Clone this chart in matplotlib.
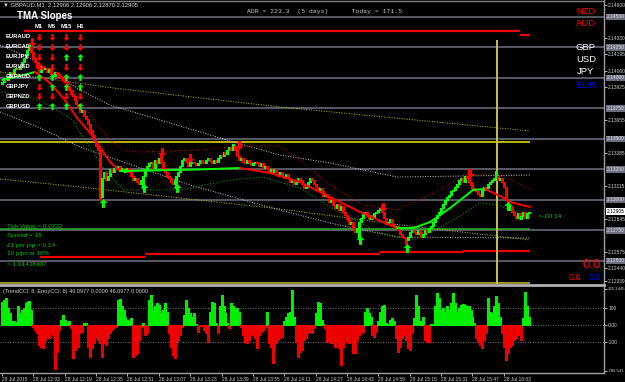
import numpy as np
import matplotlib.pyplot as plt
from matplotlib.path import Path

plt.rcParams['font.family'] = ['Liberation Sans', 'DejaVu Sans']

W, H = 625, 382

# ---------- data
close = [
    2.1397, 2.1400, 2.1398, 2.1402, 2.1405, 2.1403, 2.1407, 2.1408, 2.1407, 2.1410,
    2.1413, 2.1416, 2.1419, 2.1423, 2.1425, 2.1421, 2.1416, 2.1413, 2.1408, 2.1405,
    2.1410, 2.1407, 2.1408, 2.1405, 2.1407, 2.1403, 2.1402, 2.1405, 2.1403, 2.1402,
    2.1400, 2.1398, 2.1397, 2.1393, 2.1390, 2.1387, 2.1385, 2.1382, 2.1379, 2.1375,
    2.1372, 2.1374, 2.1369, 2.1366, 2.1362, 2.1357, 2.1353, 2.1348, 2.1344, 2.1341,
    2.1310, 2.1318, 2.1323, 2.1316, 2.1320, 2.1325, 2.1323, 2.1326, 2.1325, 2.1328,
    2.1325, 2.1326, 2.1323, 2.1325, 2.1326, 2.1323, 2.1320, 2.1316, 2.1318, 2.1315,
    2.1313, 2.1316, 2.1320, 2.1325, 2.1328, 2.1330, 2.1331, 2.1326, 2.1333, 2.1330,
    2.1334, 2.1331, 2.1326, 2.1323, 2.1320, 2.1318, 2.1315, 2.1313, 2.1316, 2.1320,
    2.1323, 2.1328, 2.1333, 2.1334, 2.1331, 2.1328, 2.1330, 2.1331, 2.1330, 2.1329,
    2.1330, 2.1333, 2.1331, 2.1330, 2.1333, 2.1334, 2.1332, 2.1330, 2.1333, 2.1331,
    2.1334, 2.1337, 2.1336, 2.1339, 2.1338, 2.1341, 2.1343, 2.1341, 2.1344, 2.1341,
    2.1336, 2.1333, 2.1334, 2.1331, 2.1330, 2.1333, 2.1331, 2.1329, 2.1330, 2.1331,
    2.1330, 2.1328, 2.1330, 2.1326, 2.1328, 2.1325, 2.1323, 2.1325, 2.1323, 2.1325,
    2.1323, 2.1320, 2.1323, 2.1320, 2.1318, 2.1321, 2.1318, 2.1315, 2.1316, 2.1313,
    2.1315, 2.1318, 2.1316, 2.1313, 2.1310, 2.1311, 2.1315, 2.1318, 2.1316, 2.1313,
    2.1311, 2.1308, 2.1310, 2.1307, 2.1303, 2.1305, 2.1302, 2.1298, 2.1300, 2.1296,
    2.1293, 2.1297, 2.1292, 2.1295, 2.1290, 2.1288, 2.1284, 2.1280, 2.1282, 2.1277,
    2.1274, 2.1277, 2.1282, 2.1285, 2.1289, 2.1290, 2.1287, 2.1284, 2.1288, 2.1285,
    2.1289, 2.1290, 2.1292, 2.1293, 2.1290, 2.1285, 2.1280, 2.1282, 2.1284, 2.1280,
    2.1277, 2.1279, 2.1275, 2.1272, 2.1270, 2.1269, 2.1267, 2.1270, 2.1274, 2.1275,
    2.1274, 2.1272, 2.1275, 2.1274, 2.1270, 2.1272, 2.1275, 2.1274, 2.1277, 2.1279,
    2.1282, 2.1285, 2.1288, 2.1290, 2.1293, 2.1297, 2.1300, 2.1302, 2.1304, 2.1307,
    2.1308, 2.1311, 2.1313, 2.1316, 2.1318, 2.1315, 2.1320, 2.1318, 2.1315, 2.1312,
    2.1310, 2.1308, 2.1307, 2.1305, 2.1303, 2.1308, 2.1311, 2.1310, 2.1313, 2.1315,
    2.1316, 2.1318, 2.1320, 2.1316, 2.1318, 2.1315, 2.1311, 2.1300, 2.1292, 2.1295,
    2.1290, 2.1288, 2.1285, 2.1289, 2.1284, 2.1287, 2.1290, 2.1285, 2.1289, 2.1290,
]
first_open = 2.1395
hi_idx = [14, 15, 81, 96, 118, 120, 194, 238, 252]
hi_val = [2.1427, 2.1425, 2.1338, 2.1334, 2.1346, 2.1342, 2.1296, 2.1325, 2.1324]
lo_idx = [50, 51, 72, 89, 182, 206, 258]
lo_val = [2.1300, 2.1302, 2.1310, 2.1310, 2.1268, 2.1264, 2.1292]

buy_idx = [51.5, 72.4, 89.3, 182.7, 206.6, 258.2]
buy_px = [2.12975, 2.13098, 2.13098, 2.12672, 2.12606, 2.12950]
sell_idx = [15.3, 81.6, 95.9, 120.9, 194.4, 238.8]
sell_px = [2.14295, 2.13393, 2.13344, 2.13450, 2.12942, 2.13221]

tma_i = [0, 9.2, 16.8, 24.5, 32.1, 38.3, 44.9, 50, 55.1, 60.2, 75.5, 101, 121.4,
         136.7, 152, 167.3, 182.7, 201.5, 209.7, 218.4, 228.6, 240.3, 246.4, 254.1,
         259.2, 269.4]
tma_p = [2.13983, 2.14016, 2.14049, 2.13959, 2.13819, 2.13672, 2.13549, 2.13434,
         2.13311, 2.13237, 2.13241, 2.13250, 2.13262, 2.13221, 2.13147, 2.13024,
         2.12901, 2.12769, 2.12769, 2.12819, 2.12934, 2.13082, 2.13090, 2.13032,
         2.12983, 2.12942]
upper_i = [9.2, 15.8, 29.6, 39.8, 44.9, 55.1, 61.7, 70.4, 101, 121.4, 141.8, 152,
           167.3, 184.2, 201.5, 218.4, 235.2, 252.6, 269.4]
upper_p = [2.14254, 2.14172, 2.13983, 2.13844, 2.13696, 2.13491, 2.13409, 2.13393,
           2.13409, 2.13442, 2.13442, 2.13327, 2.13122, 2.12958, 2.12918, 2.13041,
           2.13188, 2.13221, 2.13082]
lower_i = [0, 19.4, 36.2, 39.8, 51.5, 61.7, 90.8, 116.3, 133.2, 152, 167.3, 192.9,
           209.7, 228.6, 243.9, 252.6, 269.4]
lower_p = [2.13885, 2.13819, 2.13655, 2.13549, 2.13270, 2.13082, 2.13082, 2.13164,
           2.13188, 2.13098, 2.12942, 2.12729, 2.12672, 2.12819, 2.12975, 2.12959,
           2.12860]
wup_i = [-1, 14.3, 39.8, 55.1, 80.6, 119.9, 141.8, 167.3, 201.5, 233.7, 269.4]
wup_p = [2.14270, 2.14164, 2.13901, 2.13778, 2.13655, 2.13467, 2.13368, 2.13303,
         2.13188, 2.13196, 2.13204]
wlo_i = [-1, 19.4, 39.8, 95.9, 141.8, 167.3, 201.5, 269.4]
wlo_p = [2.13721, 2.13590, 2.13434, 2.13122, 2.12917, 2.12811, 2.12696, 2.12688]
yup_i = [-1, 56.6, 141.8, 269.4]
yup_p = [2.14049, 2.13918, 2.13762, 2.13565]
ylo_i = [-1, 39.8, 141.8, 203.1, 269.4]
ylo_p = [2.13172, 2.13106, 2.12926, 2.12795, 2.12672]

gray_levels = [2.1450, 2.1425, 2.1400, 2.1375, 2.1350, 2.1325, 2.1300, 2.1275, 2.1250]
red_start = [11, 264, 19.4, 73, 192.9, 235.2]
red_end = [264, 269.5, 73, 192.9, 235.2, 269.5]
red_price = [2.14385, 2.14352, 2.12532, 2.12557, 2.12573, 2.12582]
yellow_level = 2.13475
green_level = 2.12762
vline_idx = 252.6
vline_top = 2.1431
last_price = 2.12905

cci = [
    137, 147, 157, 98, 69, 20, 20, 15, 108, 69,
    88, 98, 127, 137, 140, 88, -10, -29, -49, -118,
    -127, -137, -88, -59, -78, -49, -59, -261, -157, -29,
    29, 59, 29, 10, 20, -20, -196, -147, -118, -127,
    -49, -39, 10, 12, -127, -186, -137, -108, -69, -88,
    -108, -186, -108, -118, -78, -49, -29, -20, -10, 147,
    150, 108, 88, 49, 29, 20, 39, -186, -176, -167,
    -88, -10, 10, -59, -49, 147, 176, 88, 108, 127,
    118, 69, 88, 127, 78, -49, -127, -176, -196, -118,
    -88, -59, -10, 59, 147, 98, 69, 49, 69, 5,
    -39, -5, -8, -29, -49, -98, 78, 137, 127, 10,
    -49, 108, 176, 108, 69, 10, -20, 127, 108, 98,
    98, 78, -10, -59, -98, -108, -88, -59, -49, -78,
    -137, -59, -39, -29, -15, 78, -108, -127, -225, -137,
    -108, -88, -78, -69, 20, 49, 69, 78, 206, 49,
    -98, -186, -157, -147, -88, -78, -49, -39, -49, -20,
    69, 137, 127, 29, 5, -20, -98, -88, -108, -78,
    -127, -98, -137, -235, -127, -69, -98, -108, -59, -167,
    -167, -88, -59, -49, -39, 78, 98, 69, 49, -59,
    -69, -39, 20, 78, 108, 118, 10, 5, 29, 40,
    20, -78, -157, -127, -78, -59, -88, -137, -147, -49,
    39, 176, 108, 20, 10, 49, -88, -98, -98, 5,
    8, 108, 186, 157, 88, 98, 78, 108, 88, 127,
    186, 127, 78, 98, 118, 123, 118, 108, 108, 88,
    49, 10, -78, -98, -118, -137, -88, -49, 157, 78,
    69, 108, 167, 127, 49, -49, -127, -206, -167, -127,
    -118, -88, -78, -59, -59, -88, 39, 196, 108, 49,
]
cci_top, cci_bottom = 225.3445, -280.541

time_labels = ['28 Jul 2015', '28 Jul 12:03', '28 Jul 12:19', '28 Jul 12:35',
               '28 Jul 12:51', '28 Jul 13:07', '28 Jul 13:23', '28 Jul 13:39',
               '28 Jul 13:55', '28 Jul 14:11', '28 Jul 14:27', '28 Jul 14:43',
               '28 Jul 14:59', '28 Jul 15:15', '28 Jul 15:31', '28 Jul 15:47',
               '28 Jul 16:03']

pairs = ['EURAUD', 'EURCAD', 'EURJPY', 'EURUSD', 'GBPAUD', 'GBPJPY', 'GBPNZD', 'GBPUSD']
frames = ['M1', 'M5', 'M15', 'H1']
slopes = [[0, 0, 0, 0], [0, 0, 0, 0], [0, 0, 1, 1], [0, 0, 0, 0],
          [1, 1, 1, 1], [0, 1, 1, 1], [0, 0, 0, 0], [1, 1, 1, 1]]

currencies = ['NZD', 'AUD', 'GBP', 'USD', 'JPY', 'EUR']
cur_colors = ['#ff0000', '#ff0000', 'white', 'white', 'white', '#0000ff']

info_lines = ['Tick Value = 0.0732', 'Spread = 18', '£1 per pip = 0.14',
              '10 pips at 10%', '= 1.01438407']

# ---------- layout
fig = plt.figure(figsize=(W / 100, H / 100), dpi=100, facecolor='black')
ymin, ymax = 2.12315, 2.14639
xmin, xmax = -1.02, 307.1

ax = fig.add_axes([0, 1 - 283.5 / H, 604 / W, 283.5 / H], facecolor='black')
ax2 = fig.add_axes([0, 1 - 372.7 / H, 604 / W, 86.2 / H], facecolor='black')
for a in (ax, ax2):
    a.set_xlim(xmin, xmax)
    for s in a.spines.values():
        s.set_visible(False)
ax.set_ylim(ymin, ymax)
ax2.set_ylim(cci_bottom, cci_top)

up_arrow = Path([(0, 1), (-0.9, 0.1), (-0.35, 0.1), (-0.35, -1), (0.35, -1),
                 (0.35, 0.1), (0.9, 0.1), (0, 1)])
down_arrow = Path([(x, -y) for x, y in up_arrow.vertices])

GREEN, RED = '#00ff00', '#ff0000'
LBL = 3.5

# levels
ax.hlines(gray_levels, xmin, xmax, colors='#5e6070', lw=1.3, zorder=1)
ax.hlines(red_price, red_start, red_end, colors='#ee0000', lw=1.6, zorder=2)
ax.hlines(yellow_level, xmin, 269.5, colors='#d8d800', lw=1.2, zorder=2)
ax.hlines(green_level, xmin, 269.5, colors='#2e9e2e', lw=1.2, zorder=2)
ax.hlines(ymin + 0.00002, xmin, 269.5, colors='#a8a030', lw=1.3, zorder=2)
ax.vlines(vline_idx, ymin, vline_top, colors='#c8c048', lw=1.4, zorder=2)

# bands
dot = (0, (1, 1.6))
ax.plot(yup_i, yup_p, color='#c8c800', lw=0.7, ls=dot, zorder=3)
ax.plot(ylo_i, ylo_p, color='#c8c800', lw=0.7, ls=dot, zorder=3)
ax.plot(wup_i, wup_p, color='#cfcfcf', lw=0.7, ls=dot, zorder=3)
ax.plot(wlo_i, wlo_p, color='#cfcfcf', lw=0.7, ls=dot, zorder=3)
ax.plot(upper_i, upper_p, color='#a00000', lw=0.8, ls=dot, zorder=3)
ax.plot(lower_i, lower_p, color='#009000', lw=0.8, ls=dot, zorder=3)

# candles
closes = np.array(close)
n = len(closes)
idx = np.arange(n)
opens = np.r_[first_open, closes[:-1]]
highs = np.maximum(opens, closes)
lows = np.minimum(opens, closes)
for i, v in zip(hi_idx, hi_val):
    highs[i] = max(highs[i], v)
for i, v in zip(lo_idx, lo_val):
    lows[i] = min(lows[i], v)
col = np.where(closes >= opens, GREEN, RED)
ax.vlines(idx, lows, highs, colors=col, lw=0.75, zorder=4, antialiased=False)
body = np.maximum(np.abs(closes - opens), 0.00002)
ax.bar(idx, body, bottom=np.minimum(opens, closes), width=0.8, color=col,
       lw=0, zorder=4, antialiased=False)

# TMA centre line, green while rising
for k in range(len(tma_i) - 1):
    c = GREEN if tma_p[k + 1] >= tma_p[k] else '#ff0000'
    ax.plot(tma_i[k:k + 2], tma_p[k:k + 2], color=c, lw=1.4, zorder=5,
            solid_capstyle='round')

ax.scatter(buy_idx, buy_px, marker=up_arrow, s=40, color=GREEN, zorder=6, lw=0)
ax.scatter(sell_idx, sell_px, marker=down_arrow, s=40, color=RED, zorder=6, lw=0)

# right price scale; labels hidden under the level boxes are left out
ticks = [round(2.14600 - k * 0.00135, 5) for k in range(17)] + [2.12339]
ticks = [t for t in ticks
         if min(abs(t - g) for g in gray_levels + [last_price]) > 0.0004]
ax.yaxis.tick_right()
ax.set_yticks(ticks)
ax.set_yticklabels([f'{t:.5f}' for t in ticks])
ax.tick_params(axis='y', colors='#d0d0d0', labelsize=LBL, length=2, pad=1,
               width=0.6)
ax.tick_params(axis='x', length=0, labelbottom=False)
for lv in gray_levels:
    ax.text(1.004, lv, f'{lv:.5f}', transform=ax.get_yaxis_transform(),
            fontsize=LBL, color='#e8e8e8', va='center', ha='left', clip_on=False,
            bbox=dict(boxstyle='square,pad=0.15', fc='#6a6e7e', ec='none'))
ax.text(1.004, last_price, f'{last_price:.5f}', transform=ax.get_yaxis_transform(),
        fontsize=LBL, color='black', va='center', ha='left', clip_on=False,
        bbox=dict(boxstyle='square,pad=0.15', fc='white', ec='none'))

# CCI pane
cci_arr = np.array(cci)
ax2.vlines(idx[:len(cci)], 0, cci_arr, lw=0.75, antialiased=False,
           colors=np.where(cci_arr >= 0, '#00ee00', '#ee0000'), zorder=3)
ax2.hlines([100, 0, -100], xmin, xmax, colors='#9a9a9a', lw=0.6, ls=(0, (1, 2)))
ax2.yaxis.tick_right()
ax2.set_yticks([cci_top - 12, 100, 0, -100, cci_bottom + 12])
ax2.set_yticklabels(['225.3445', '100', '0.00', '-100', '-280.541'])
ax2.tick_params(axis='y', colors='#d0d0d0', labelsize=LBL, length=2, pad=1,
                width=0.6)
for t in (ax2.get_yticklabels()[0], ax2.get_yticklabels()[-1]):
    t.set_fontsize(3.1)
ax2.set_xticks(np.arange(len(time_labels)) * 16)
ax2.set_xticklabels(time_labels, ha='left')
ax2.tick_params(axis='x', colors='#d0d0d0', labelsize=LBL, length=2, pad=1,
                width=0.6)

# ---------- overlay in pixel coordinates for frame and text
ov = fig.add_axes([0, 0, 1, 1], facecolor='none')
ov.set_xlim(0, W)
ov.set_ylim(H, 0)
ov.axis('off')
ov.plot([604, 604], [0, 373], color='#a0a0a0', lw=1)
ov.plot([0, 604], [0.5, 0.5], color='#808080', lw=1)
ov.plot([0, 604], [285, 285], color='#b0b0b0', lw=2)
ov.plot([0, 604], [373, 373], color='#a0a0a0', lw=1)

ov.text(3, 5, '▼ GBPAUD,M1  2.12906 2.12906 2.12870 2.12905', fontsize=4.2,
        color='#d8d8d8', va='center')
ov.text(17, 16, 'TMA Slopes', fontsize=7, color='white', fontweight='bold',
        va='center')
col_x = [39, 52, 66, 80]
for x, f in zip(col_x, frames):
    ov.text(x, 27, f, fontsize=4.2, color='white', fontweight='bold',
            ha='center', va='center')
for r, (p, row) in enumerate(zip(pairs, slopes)):
    y = 37 + r * 9.9
    ov.text(6, y, p, fontsize=4.2, color='white', fontweight='bold', va='center')
    for x, s in zip(col_x, row):
        ov.scatter(x, y, marker=up_arrow if s else down_arrow, s=24,
                   color=GREEN if s else RED, lw=0)

ov.text(247, 11, 'ADR = 223.3  (5 days)      Today = 171.5', fontsize=4.6,
        color='#c8c8c8', va='center', family='Liberation Mono')

for k, (c, cc) in enumerate(zip(currencies, cur_colors)):
    y = [11, 23, 48, 60, 72, 85][k]
    ov.text(586, y, c, fontsize=6.8, color=cc, ha='center', va='center')

ov.text(538, 216, '<--00:14', fontsize=4.6, color='#20c020', va='center')
ov.text(592, 265, '0.0', fontsize=9.5, color='#ff0000', ha='center', va='center')
ov.text(575, 277.5, '0.0', fontsize=6.5, color='#ff0000', ha='center', va='center')
ov.text(595, 277.5, '0.0', fontsize=6.5, color='#0000ff', ha='center', va='center')

for k, t in enumerate(info_lines):
    ov.text(7, [226, 235.5, 245, 254, 264][k], t, fontsize=4.6, color='#00c000',
            va='center')

ov.text(3, 291, '(TrendCCI: 8, EntryCCI: 8) 46.0977 0.0000 46.0977 0.0000',
        fontsize=4.0, color='#d0d0d0', va='center')

fig.savefig('out.png', dpi=100, facecolor='black')
